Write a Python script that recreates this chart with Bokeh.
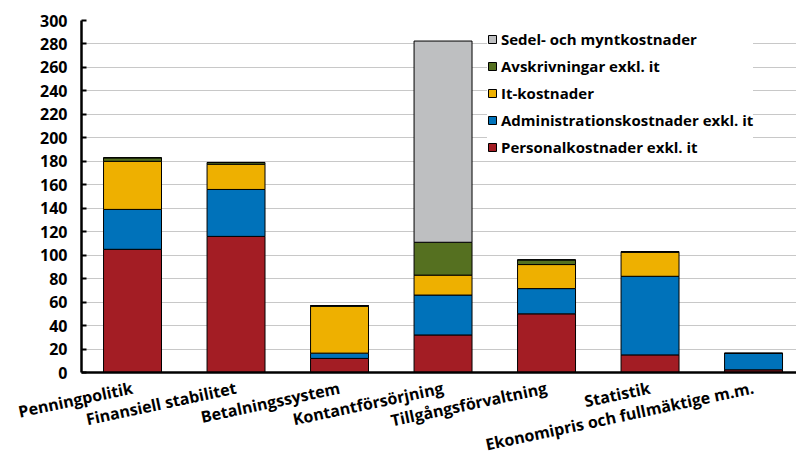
from bokeh.plotting import figure
from bokeh.models import Range1d, FixedTicker, Legend, LegendItem, ColumnDataSource
from bokeh.embed import file_html
from bokeh.resources import INLINE

categories = ["Penningpolitik", "Finansiell stabilitet", "Betalningssystem",
              "Kontantförsörjning", "Tillgångsförvaltning", "Statistik",
              "Ekonomipris och fullmäktige m.m."]
personal = [105, 116, 12, 32, 50, 15, 2.3]
admin = [34, 40, 4.5, 34, 21.5, 67, 14]
it_cost = [41, 21.5, 40, 17, 20.5, 20.5, 0]
avskr = [3, 1.5, 0.5, 28, 4, 0.5, 0]
sedel = [0, 0, 0, 171.5, 0, 0, 0]

series_names = ["Personalkostnader exkl. it", "Administrationskostnader exkl. it",
                "It-kostnader", "Avskrivningar exkl. it", "Sedel- och myntkostnader"]
series_keys = ["personal", "admin", "it", "avskr", "sedel"]
colors = ["#A31D24", "#0072BA", "#EEB000", "#557020", "#BEBFC1"]
y_ticks = list(range(0, 301, 20))

FONT = "Open Sans"

xs = list(range(len(categories)))
src = ColumnDataSource(dict(x=xs, personal=personal,
                            admin=admin, it=it_cost, avskr=avskr, sedel=sedel))

p = figure(width=796, height=470, output_backend="svg", toolbar_location=None,
           x_range=Range1d(-0.493, 6.415), y_range=Range1d(0, 300),
           min_border_left=81, min_border_right=0, min_border_top=20,
           min_border_bottom=98)
p.outline_line_color = None

renderers = p.vbar_stack(series_keys, x="x", width=0.56, source=src,
                         fill_color=colors, line_color="black", line_width=1)

items = [LegendItem(label=n, renderers=[r]) for n, r in zip(series_names, renderers)]
legend = Legend(items=list(reversed(items)), location=(406, 215))
legend.label_text_font = FONT
legend.label_text_font_style = "bold"
legend.label_text_font_size = "15px"
legend.label_text_color = "black"
legend.glyph_width = 10
legend.glyph_height = 10
legend.label_height = 21
legend.label_standoff = 4
legend.spacing = 6
legend.padding = 6
legend.margin = 0
legend.border_line_color = None
legend.background_fill_color = "white"
legend.background_fill_alpha = 1
p.add_layout(legend)

p.yaxis.ticker = FixedTicker(ticks=y_ticks)
p.ygrid.ticker = FixedTicker(ticks=y_ticks)
p.ygrid.grid_line_color = "#C8C8C8"
p.ygrid.grid_line_width = 1
p.xgrid.grid_line_color = None

p.yaxis.axis_line_color = "black"
p.yaxis.axis_line_width = 2.5
p.yaxis.major_tick_in = 5
p.yaxis.major_tick_out = 0
p.yaxis.major_tick_line_width = 2
p.yaxis.major_tick_line_color = "black"
p.yaxis.minor_tick_line_color = None
p.yaxis.major_label_text_font = FONT
p.yaxis.major_label_text_font_style = "bold"
p.yaxis.major_label_text_font_size = "16px"
p.yaxis.major_label_text_color = "black"
p.yaxis.major_label_standoff = 14

p.xaxis.ticker = FixedTicker(ticks=xs)
p.xaxis.major_label_overrides = {i: c for i, c in enumerate(categories)}
p.xaxis.axis_line_color = "black"
p.xaxis.axis_line_width = 2.5
p.xaxis.major_tick_line_color = None
p.xaxis.minor_tick_line_color = None
p.xaxis.major_label_orientation = 0.21
p.xaxis.major_label_text_font = FONT
p.xaxis.major_label_text_font_style = "bold"
p.xaxis.major_label_text_font_size = "16px"
p.xaxis.major_label_text_color = "black"
p.xaxis.major_label_standoff = 9

open("out.html", "w").write(file_html(p, INLINE))
